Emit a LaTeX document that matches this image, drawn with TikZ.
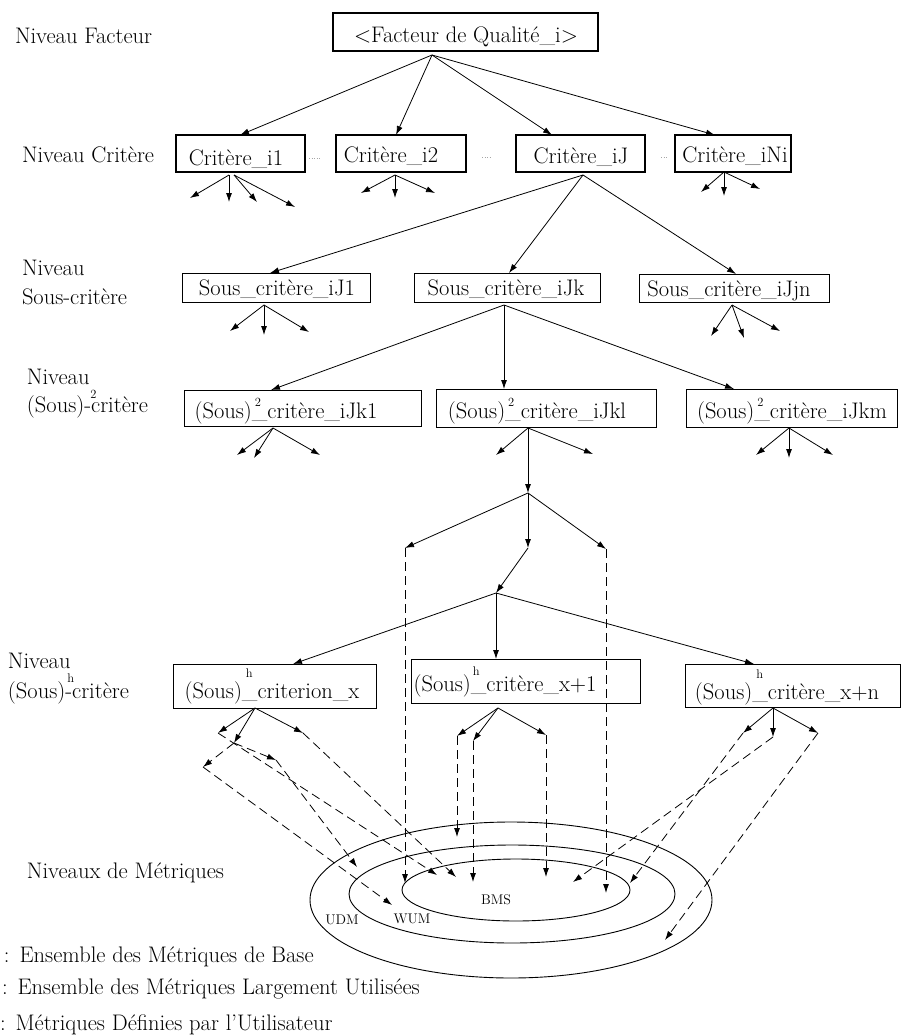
\documentclass[tikz,border=0pt]{standalone}
\usepackage{fontspec}
\usetikzlibrary{arrows.meta}
\newcommand\mysup[3]{\makebox[0pt][l]{\hspace{#1}\raisebox{#2}{\fontsize{12.5}{12.5}\selectfont #3}}}
\begin{document}
\begin{tikzpicture}[x=1pt,y=-1pt,
  every node/.style={inner sep=0pt, outer sep=0pt},
  lbl/.style={font=\fontsize{22.5}{26}\selectfont, anchor=base west},
  txt/.style={font=\fontsize{22.5}{26}\selectfont, anchor=base},
  small/.style={font=\fontsize{14}{16}\selectfont, anchor=center},
  box/.style={draw, line width=0.9pt, anchor=north west},
  fbox/.style={draw, line width=1.2pt, anchor=north west},
  cbox/.style={draw, line width=1.6pt, anchor=north west},
  arr/.style={line width=0.8pt, -{Latex[length=9pt,width=6pt]}},
  darr/.style={arr, dash pattern=on 9pt off 5pt},
  sepdots/.style={gray!70, line width=0.7pt, dash pattern=on 1pt off 1.5pt},
  ring/.style={line width=0.9pt}
]
\useasboundingbox (0,0) rectangle (902,1036);

% ---------- level labels ----------
\node[lbl] (l1) at (15,43) {Niveau Facteur};
\node[lbl] (l2) at (22,162) {Niveau Critère};
\node[lbl] (l3a) at (22,275) {Niveau};
\node[lbl] (l3b) at (22,304) {Sous-critère};
\node[lbl] (l4a) at (27,384) {Niveau};
\node[lbl] (l4b) at (27,412) {(Sous)\mysup{6pt}{14pt}{2}-critère};
\node[lbl] (l5a) at (8,668) {Niveau};
\node[lbl] (l5b) at (8,698) {(Sous)\mysup{2pt}{16pt}{h}-critère};
\node[lbl] (l6) at (27,878) {Niveaux de Métriques};
\node[lbl] (lg1) at (4,962) {:\hspace{10pt}Ensemble des Métriques de Base};
\node[lbl] (lg2) at (2,994) {:\hspace{10pt}Ensemble des Métriques Largement Utilisées};
\node[lbl] (lg3) at (0,1030) {:\hspace{10pt}Métriques Définies par l'Utilisateur};

% ---------- facteur ----------
\node[fbox, minimum width=265pt, minimum height=38pt] (f) at (333,13) {};
\node[txt] (ft) at (466,42) {<Facteur de Qualité\_i>};

% ---------- criteres ----------
\node[cbox, minimum width=129pt, minimum height=37pt] (c1) at (176,135) {};
\node[txt] (c1t) at (236,165) {Critère\_i1};
\node[cbox, minimum width=130pt, minimum height=37pt] (c2) at (336,135) {};
\node[txt] (c2t) at (391,162) {Critère\_i2};
\node[cbox, minimum width=129pt, minimum height=37pt] (cJ) at (516,135) {};
\node[txt] (cJt) at (581,163) {Critère\_iJ};
\node[cbox, minimum width=116pt, minimum height=37pt] (cN) at (675,135) {};
\node[txt] (cNt) at (735,162) {Critère\_iNi};
\draw[sepdots] (309,158) -- (320,158);
\draw[sepdots] (482,157) -- (490,157);
\draw[sepdots] (661,157) -- (668,157);

% ---------- sous-criteres ----------
\node[box, minimum width=188pt, minimum height=29pt] (s1) at (182,273) {};
\node[txt] (s1t) at (277,295) {Sous\_critère\_iJ1};
\node[box, minimum width=186pt, minimum height=29pt] (s2) at (414,273) {};
\node[txt] (s2t) at (506,295) {Sous\_critère\_iJk};
\node[box, minimum width=190pt, minimum height=28pt] (s3) at (639,274) {};
\node[txt] (s3t) at (729,296) {Sous\_critère\_iJjn};

% ---------- (sous)^2 ----------
\node[box, minimum width=237pt, minimum height=36pt] (q1) at (184,390) {};
\node[txt] (q1t) at (286,418) {(Sous)\mysup{3pt}{12pt}{2}\_critère\_iJk1};
\node[box, minimum width=220pt, minimum height=38pt] (q2) at (436,389) {};
\node[txt] (q2t) at (537,418) {(Sous)\mysup{3pt}{12pt}{2}\_critère\_iJkl};
\node[box, minimum width=211pt, minimum height=38pt] (q3) at (686,389) {};
\node[txt] (q3t) at (792,418) {(Sous)\mysup{3pt}{12pt}{2}\_critère\_iJkm};

% ---------- (sous)^h ----------
\node[box, minimum width=203pt, minimum height=44pt] (h1) at (173,664) {};
\node[txt] (h1t) at (272,698) {(Sous)\mysup{4pt}{21pt}{h}\_criterion\_x};
\node[box, minimum width=229pt, minimum height=44pt] (h2) at (411,659) {};
\node[txt] (h2t) at (505,691) {(Sous)\mysup{2pt}{16pt}{h}\_critère\_x+1};
\node[box, minimum width=215pt, minimum height=43pt] (h3) at (685,664) {};
\node[txt] (h3t) at (787,699) {(Sous)\mysup{4pt}{21pt}{h}\_critère\_x+n};

% ---------- metric rings ----------
\draw[ring] (511,900) ellipse [x radius=201pt, y radius=78pt];
\draw[ring] (512,894) ellipse [x radius=163pt, y radius=49pt];
\draw[ring] (516,890) ellipse [x radius=114pt, y radius=31pt];
\node[small] (udm) at (342,920) {UDM};
\node[small] (wum) at (412,919) {WUM};
\node[small] (bms) at (496,900) {BMS};

% ---------- coordinates ----------
\coordinate (f0) at (432,55);
\coordinate (c1in) at (240,135);
\coordinate (c2in) at (396,135);
\coordinate (cJin) at (552,135);
\coordinate (cNin) at (715,135);

\coordinate (c1oa) at (229,175);
\coordinate (c1ob) at (234,175);
\coordinate (c1e1) at (190,198);
\coordinate (c1e2) at (229,202);
\coordinate (c1e3) at (257,202);
\coordinate (c1e4) at (295,207);

\coordinate (c2o) at (395,175);
\coordinate (c2e1) at (361,193);
\coordinate (c2e2) at (395,198);
\coordinate (c2e3) at (435,193);

\coordinate (cJo) at (583,175);
\coordinate (s1in) at (270,273);
\coordinate (s2in) at (509,273);
\coordinate (s3in) at (736,274);

\coordinate (cNo) at (724,172);
\coordinate (cNe1) at (701,192);
\coordinate (cNe2) at (724,196);
\coordinate (cNe3) at (760,189);

\coordinate (s1o) at (264,305);
\coordinate (s1e1) at (230,331);
\coordinate (s1e2) at (264,335);
\coordinate (s1e3) at (309,332);

\coordinate (s2o) at (504,305);
\coordinate (q1in) at (271,390);
\coordinate (q2in) at (504,389);
\coordinate (q3in) at (734,389);

\coordinate (s3o) at (732,305);
\coordinate (s3e1) at (711,336);
\coordinate (s3e2) at (744,338);
\coordinate (s3e3) at (780,331);

\coordinate (q1o) at (273,428);
\coordinate (q1e1) at (237,455);
\coordinate (q1e2) at (254,458);
\coordinate (q1e3) at (320,455);

\coordinate (q2o) at (528,428);
\coordinate (q2e1) at (496,455);
\coordinate (q2e3) at (593,454);
\coordinate (m1) at (528,493);
\coordinate (m2l) at (405,548);
\coordinate (m2c) at (528,548);
\coordinate (m2r) at (606,549);
\coordinate (m3) at (496,593);
\coordinate (h1in) at (293,664);
\coordinate (h2in) at (496,659);
\coordinate (h3in) at (754,664);

\coordinate (q3o) at (789,428);
\coordinate (q3e1) at (756,455);
\coordinate (q3e2) at (789,458);
\coordinate (q3e3) at (833,455);

\coordinate (h1o) at (255,708);
\coordinate (h1e1) at (218,733);
\coordinate (h1e2) at (234,743);
\coordinate (h1e3) at (303,733);
\coordinate (h1d1) at (203,767);
\coordinate (h1d2) at (276,760);

\coordinate (h2o) at (498,708);
\coordinate (h2e1) at (457,736);
\coordinate (h2e2) at (473,741);
\coordinate (h2e3) at (546,735);

\coordinate (h3o) at (773,708);
\coordinate (h3e1) at (743,733);
\coordinate (h3e2) at (773,737);
\coordinate (h3e3) at (818,733);

% metric targets
\coordinate (t1) at (437,875);
\coordinate (t2) at (392,905);
\coordinate (t3) at (357,867);
\coordinate (t4) at (456,877);
\coordinate (t5) at (457,837);
\coordinate (t6) at (473,882);
\coordinate (t7) at (546,877);
\coordinate (t8) at (630,883);
\coordinate (t9) at (573,882);
\coordinate (t10) at (665,940);
\coordinate (t11) at (405,883);
\coordinate (t12) at (606,893);

% ---------- solid arrows ----------
\foreach \e in {c1in,c2in,cJin,cNin} \draw[arr] (f0) -- (\e);
\draw[arr] (c1oa) -- (c1e1);
\draw[arr] (c1oa) -- (c1e2);
\draw[arr] (c1ob) -- (c1e3);
\draw[arr] (c1ob) -- (c1e4);
\foreach \e in {c2e1,c2e2,c2e3} \draw[arr] (c2o) -- (\e);
\foreach \e in {s1in,s2in,s3in} \draw[arr] (cJo) -- (\e);
\foreach \e in {cNe1,cNe2,cNe3} \draw[arr] (cNo) -- (\e);
\foreach \e in {s1e1,s1e2,s1e3} \draw[arr] (s1o) -- (\e);
\foreach \e in {q1in,q2in,q3in} \draw[arr] (s2o) -- (\e);
\foreach \e in {s3e1,s3e2,s3e3} \draw[arr] (s3o) -- (\e);
\foreach \e in {q1e1,q1e2,q1e3} \draw[arr] (q1o) -- (\e);
\foreach \e in {q2e1,q2e3,m1} \draw[arr] (q2o) -- (\e);
\foreach \e in {q3e1,q3e2,q3e3} \draw[arr] (q3o) -- (\e);
\foreach \e in {m2l,m2c,m2r} \draw[arr] (m1) -- (\e);
\draw[arr] (m2c) -- (m3);
\foreach \e in {h1in,h2in,h3in} \draw[arr] (m3) -- (\e);
\foreach \e in {h1e1,h1e2,h1e3} \draw[arr] (h1o) -- (\e);
\foreach \e in {h2e1,h2e2,h2e3} \draw[arr] (h2o) -- (\e);
\foreach \e in {h3e1,h3e2,h3e3} \draw[arr] (h3o) -- (\e);

% ---------- dashed arrows ----------
\draw[darr] (m2l) -- (t11);
\draw[darr] (m2r) -- (t12);
\draw[darr] (h1e1) -- (t1);
\draw[darr] (h1e2) -- (h1d1);
\draw[darr] (h1d1) -- (t2);
\draw[darr] (h1e2) -- (h1d2);
\draw[darr] (h1d2) -- (t3);
\draw[darr] (h1e3) -- (t4);
\draw[darr] (h2e1) -- (t5);
\draw[darr] (h2e2) -- (t6);
\draw[darr] (h2e3) -- (t7);
\draw[darr] (h3e1) -- (t8);
\draw[darr] (h3e2) -- (t9);
\draw[darr] (h3e3) -- (t10);
\end{tikzpicture}
\end{document}
